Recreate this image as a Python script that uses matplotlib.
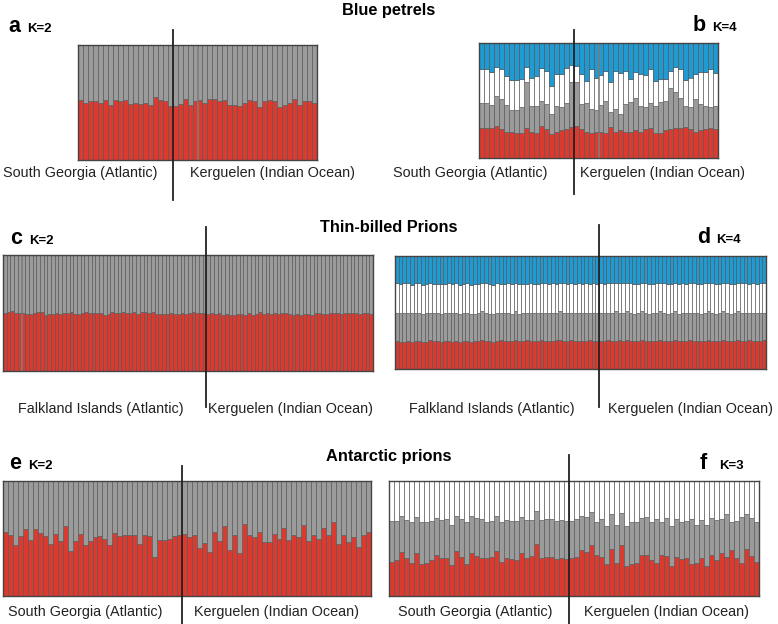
import matplotlib
matplotlib.use("Agg")
import matplotlib.pyplot as plt
import numpy as np

plt.rcParams['font.family'] = ['Liberation Sans', 'DejaVu Sans']

RED = '#dc3a2e'
GREY = '#9b9b9b'
WHITE = '#ffffff'
BLUE = '#1f9ad3'
EDGE = '#555555'

# ---------------- Blue petrels ----------------
a_red_sg = [0.52, 0.50, 0.51, 0.51, 0.50, 0.52, 0.48, 0.52, 0.51, 0.52, 0.49, 0.50, 0.49, 0.50, 0.48, 0.55, 0.52, 0.51, 0.47]
a_red_ker = [0.47, 0.49, 0.53, 0.48, 0.51, 0.52, 0.50, 0.53, 0.53, 0.51, 0.52, 0.48, 0.48, 0.47, 0.50, 0.52, 0.51, 0.46, 0.51,
             0.52, 0.51, 0.46, 0.48, 0.50, 0.53, 0.48, 0.51, 0.51, 0.50]

b_red_sg = [0.26, 0.26, 0.26, 0.28, 0.25, 0.23, 0.23, 0.22, 0.22, 0.26, 0.23, 0.22, 0.28, 0.25, 0.21, 0.23, 0.24, 0.25, 0.27]
b_grey_sg = [0.22, 0.22, 0.20, 0.26, 0.26, 0.23, 0.19, 0.20, 0.22, 0.40, 0.22, 0.23, 0.22, 0.22, 0.17, 0.22, 0.20, 0.23, 0.39]
b_white_sg = [0.29, 0.29, 0.29, 0.25, 0.26, 0.25, 0.26, 0.26, 0.25, 0.13, 0.25, 0.26, 0.28, 0.29, 0.25, 0.28, 0.29, 0.30, 0.15]
b_red_ker = [0.28, 0.25, 0.23, 0.22, 0.23, 0.23, 0.22, 0.27, 0.23, 0.24, 0.23, 0.23, 0.24, 0.23, 0.25, 0.26, 0.22, 0.22, 0.24,
             0.25, 0.26, 0.26, 0.27, 0.25, 0.23, 0.24, 0.25, 0.26, 0.25]
b_grey_ker = [0.38, 0.22, 0.25, 0.21, 0.19, 0.23, 0.28, 0.13, 0.20, 0.14, 0.24, 0.26, 0.28, 0.22, 0.19, 0.22, 0.23, 0.27, 0.26,
              0.36, 0.31, 0.26, 0.18, 0.19, 0.28, 0.23, 0.20, 0.18, 0.20]
b_white_ker = [0.14, 0.26, 0.19, 0.34, 0.28, 0.26, 0.26, 0.26, 0.33, 0.36, 0.29, 0.20, 0.23, 0.28, 0.28, 0.29, 0.22, 0.20, 0.19,
               0.15, 0.22, 0.25, 0.23, 0.26, 0.22, 0.28, 0.30, 0.33, 0.29]

# ---------------- Thin-billed prions ----------------
c_red_fi = [0.50, 0.51, 0.52, 0.50, 0.50, 0.50, 0.49, 0.49, 0.50, 0.51, 0.51, 0.48, 0.49, 0.49, 0.50, 0.49, 0.50, 0.50, 0.51, 0.49,
            0.49, 0.50, 0.51, 0.50, 0.50, 0.50, 0.50, 0.48, 0.49, 0.51, 0.50, 0.50, 0.51, 0.50, 0.50, 0.51, 0.49, 0.51, 0.51, 0.50,
            0.51, 0.49, 0.49, 0.49, 0.49, 0.50, 0.49, 0.49, 0.50, 0.49, 0.50, 0.51, 0.50, 0.50, 0.50]
c_red_ker = [0.49, 0.50, 0.49, 0.50, 0.48, 0.49, 0.48, 0.48, 0.49, 0.49, 0.48, 0.50, 0.48, 0.49, 0.51, 0.49, 0.50, 0.49, 0.50, 0.49,
             0.50, 0.50, 0.49, 0.48, 0.49, 0.48, 0.49, 0.49, 0.48, 0.50, 0.50, 0.49, 0.49, 0.50, 0.50, 0.50, 0.49, 0.50, 0.50, 0.50,
             0.50, 0.49, 0.50, 0.50, 0.49]

d_red_fi = [0.25, 0.24, 0.24, 0.25, 0.24, 0.25, 0.25, 0.24, 0.24, 0.26, 0.25, 0.25, 0.24, 0.25, 0.25, 0.24, 0.25, 0.24, 0.25, 0.25,
            0.24, 0.25, 0.25, 0.26, 0.25, 0.25, 0.24, 0.25, 0.26, 0.25, 0.25, 0.25, 0.26, 0.25, 0.25, 0.26, 0.25, 0.25, 0.25, 0.26,
            0.25, 0.25, 0.25, 0.26, 0.26, 0.25, 0.25, 0.26, 0.25, 0.25, 0.25, 0.25, 0.26, 0.25, 0.25]
d_grey_fi = [0.25, 0.26, 0.26, 0.25, 0.26, 0.25, 0.25, 0.25, 0.26, 0.24, 0.25, 0.25, 0.25, 0.25, 0.25, 0.26, 0.25, 0.25, 0.25, 0.25,
             0.25, 0.24, 0.25, 0.25, 0.25, 0.24, 0.25, 0.25, 0.24, 0.25, 0.25, 0.24, 0.25, 0.24, 0.25, 0.24, 0.25, 0.25, 0.25, 0.24,
             0.25, 0.25, 0.25, 0.24, 0.25, 0.25, 0.25, 0.24, 0.25, 0.25, 0.25, 0.25, 0.24, 0.25, 0.25]
d_white_fi = [0.26, 0.25, 0.26, 0.26, 0.24, 0.26, 0.26, 0.25, 0.25, 0.26, 0.25, 0.25, 0.26, 0.25, 0.26, 0.25, 0.26, 0.25, 0.25, 0.26,
              0.25, 0.26, 0.25, 0.25, 0.26, 0.26, 0.25, 0.26, 0.25, 0.25, 0.26, 0.26, 0.25, 0.26, 0.25, 0.25, 0.26, 0.25, 0.25, 0.26,
              0.26, 0.25, 0.26, 0.25, 0.25, 0.26, 0.25, 0.26, 0.25, 0.26, 0.25, 0.26, 0.25, 0.26, 0.25]
d_red_ker = [0.25, 0.25, 0.26, 0.25, 0.25, 0.26, 0.25, 0.26, 0.25, 0.25, 0.25, 0.26, 0.25, 0.25, 0.25, 0.25, 0.26, 0.25, 0.25, 0.25,
             0.26, 0.25, 0.25, 0.25, 0.26, 0.25, 0.25, 0.25, 0.25, 0.26, 0.25, 0.25, 0.25, 0.26, 0.25, 0.25, 0.25, 0.26, 0.25, 0.25,
             0.26, 0.25, 0.25, 0.25, 0.26]
d_grey_ker = [0.25, 0.25, 0.24, 0.25, 0.26, 0.24, 0.25, 0.25, 0.25, 0.24, 0.25, 0.25, 0.25, 0.24, 0.25, 0.25, 0.25, 0.25, 0.24, 0.25,
              0.25, 0.24, 0.25, 0.25, 0.24, 0.25, 0.25, 0.24, 0.25, 0.25, 0.25, 0.24, 0.25, 0.25, 0.25, 0.24, 0.25, 0.25, 0.25, 0.25,
              0.24, 0.25, 0.25, 0.25, 0.24]
d_white_ker = [0.26, 0.25, 0.26, 0.26, 0.25, 0.26, 0.26, 0.25, 0.26, 0.26, 0.25, 0.25, 0.26, 0.26, 0.25, 0.26, 0.25, 0.26, 0.26, 0.25,
               0.25, 0.26, 0.26, 0.25, 0.26, 0.26, 0.25, 0.26, 0.26, 0.25, 0.26, 0.26, 0.25, 0.25, 0.26, 0.26, 0.25, 0.25, 0.26, 0.26,
               0.25, 0.26, 0.25, 0.26, 0.26]

# ---------------- Antarctic prions ----------------
e_red_sg = [0.56, 0.53, 0.44, 0.52, 0.58, 0.49, 0.58, 0.55, 0.52, 0.45, 0.54, 0.48, 0.61, 0.39, 0.48, 0.54, 0.44, 0.48, 0.51, 0.52,
            0.50, 0.44, 0.55, 0.52, 0.53, 0.53, 0.53, 0.45, 0.53, 0.52, 0.34, 0.49, 0.49, 0.50, 0.52, 0.53]
e_red_ker = [0.54, 0.51, 0.53, 0.42, 0.46, 0.38, 0.56, 0.48, 0.61, 0.40, 0.53, 0.37, 0.63, 0.53, 0.51, 0.56, 0.47, 0.47, 0.54, 0.50,
             0.59, 0.49, 0.53, 0.51, 0.62, 0.48, 0.53, 0.50, 0.59, 0.53, 0.64, 0.45, 0.53, 0.47, 0.51, 0.43, 0.53, 0.56]

f_red_sg = [0.30, 0.31, 0.38, 0.33, 0.29, 0.37, 0.28, 0.29, 0.31, 0.36, 0.33, 0.33, 0.27, 0.39, 0.34, 0.28, 0.37, 0.35, 0.33, 0.33,
            0.34, 0.39, 0.30, 0.33, 0.32, 0.31, 0.37, 0.33, 0.35, 0.45, 0.33, 0.34, 0.34, 0.32, 0.33, 0.32]
f_grey_sg = [0.35, 0.34, 0.32, 0.33, 0.35, 0.32, 0.36, 0.35, 0.34, 0.32, 0.33, 0.34, 0.35, 0.31, 0.33, 0.36, 0.33, 0.33, 0.34, 0.31,
             0.31, 0.31, 0.34, 0.33, 0.33, 0.34, 0.32, 0.33, 0.31, 0.29, 0.33, 0.33, 0.33, 0.33, 0.33, 0.33]
f_red_ker = [0.33, 0.34, 0.40, 0.38, 0.44, 0.36, 0.34, 0.28, 0.41, 0.29, 0.44, 0.26, 0.28, 0.29, 0.36, 0.36, 0.31, 0.29, 0.36, 0.35,
             0.26, 0.34, 0.32, 0.33, 0.28, 0.29, 0.33, 0.26, 0.36, 0.31, 0.37, 0.34, 0.40, 0.33, 0.29, 0.41, 0.35, 0.30]
f_grey_ker = [0.32, 0.33, 0.30, 0.31, 0.29, 0.28, 0.33, 0.33, 0.30, 0.33, 0.28, 0.35, 0.36, 0.35, 0.32, 0.33, 0.33, 0.38, 0.28, 0.33,
              0.35, 0.33, 0.32, 0.32, 0.39, 0.33, 0.33, 0.36, 0.32, 0.35, 0.30, 0.37, 0.24, 0.32, 0.40, 0.30, 0.33, 0.34]

titles = ["Blue petrels", "Thin-billed Prions", "Antarctic prions"]
pop_sg = "South Georgia (Atlantic)"
pop_fi = "Falkland Islands (Atlantic)"
pop_ker = "Kerguelen (Indian Ocean)"

W, H = 778, 624
fig = plt.figure(figsize=(W / 100, H / 100), dpi=100)


def px(x, y):
    return x / W, 1 - y / H


def panel(box, layers, colors, n_left, div_y, letter, k_label, letter_xy, labels, label_y, label_xs):
    x0, y0, x1, y1 = box
    ax = fig.add_axes([x0 / W, 1 - y1 / H, (x1 - x0) / W, (y1 - y0) / H])
    n = len(layers[0])
    xs = np.arange(n)
    bottom = np.zeros(n)
    for vals, col in zip(layers, colors):
        v = np.asarray(vals, dtype=float)
        ax.bar(xs, v, bottom=bottom, width=1.0, color=col, edgecolor=EDGE, linewidth=0.45)
        bottom = bottom + v
    # top cluster fills the remainder
    ax.bar(xs, 1 - bottom, bottom=bottom, width=1.0, color=colors[len(layers)], edgecolor=EDGE, linewidth=0.45)
    ax.set_xlim(-0.5, n - 0.5)
    ax.set_ylim(0, 1)
    ax.set_xticks([])
    ax.set_yticks([])
    for s in ax.spines.values():
        s.set_color('#444444')
        s.set_linewidth(1.0)
    h = y1 - y0
    ymin = (y1 - div_y[1]) / h
    ymax = (y1 - div_y[0]) / h
    ax.axvline(n_left - 0.5, ymin=ymin, ymax=ymax, color='#222222', lw=1.3, clip_on=False, zorder=5)
    lx, ly = letter_xy
    fig.text(*px(lx, ly), letter, fontsize=15.5, fontweight='bold', ha='left', va='baseline')
    fig.text(*px(lx + 19, ly), k_label, fontsize=9.5, fontweight='bold', ha='left', va='baseline')
    for lab, cx in zip(labels, label_xs):
        fig.text(*px(cx, label_y), lab, fontsize=10.4, ha='center', va='center', color='#222222')


# a
panel((78, 45, 317, 160), [a_red_sg + a_red_ker], [RED, GREY], len(a_red_sg), (30, 200),
      'a', 'K=2', (8, 32), [pop_sg, pop_ker], 173, (80, 272))
# b
panel((479, 43, 718, 158), [b_red_sg + b_red_ker, b_grey_sg + b_grey_ker, b_white_sg + b_white_ker],
      [RED, GREY, WHITE, BLUE], len(b_red_sg), (30, 194),
      'b', 'K=4', (693, 31), [pop_sg, pop_ker], 173, (470, 663))
# c
panel((3, 255, 373, 371), [c_red_fi + c_red_ker], [RED, GREY], len(c_red_fi), (227, 407),
      'c', 'K=2', (10, 244), [pop_fi, pop_ker], 409, (101, 291))
# d
panel((395, 256, 766, 369), [d_red_fi + d_red_ker, d_grey_fi + d_grey_ker, d_white_fi + d_white_ker],
      [RED, GREY, WHITE, BLUE], len(d_red_fi), (225, 407),
      'd', 'K=4', (697, 243), [pop_fi, pop_ker], 409, (492, 691))
# e
panel((3, 481, 371, 596), [e_red_sg + e_red_ker], [RED, GREY], len(e_red_sg), (466, 624),
      'e', 'K=2', (9, 469), [pop_sg, pop_ker], 612, (85, 277))
# f
panel((389, 481, 759, 596), [f_red_sg + f_red_ker, f_grey_sg + f_grey_ker], [RED, GREY, WHITE],
      len(f_red_sg), (455, 624),
      'f', 'K=3', (700, 469), [pop_sg, pop_ker], 612, (475, 667))

for t, y in zip(titles, (10, 227, 457)):
    fig.text(*px(389, y), t, fontsize=11.8, fontweight='bold', ha='center', va='center')

fig.savefig('out.png', dpi=100)
